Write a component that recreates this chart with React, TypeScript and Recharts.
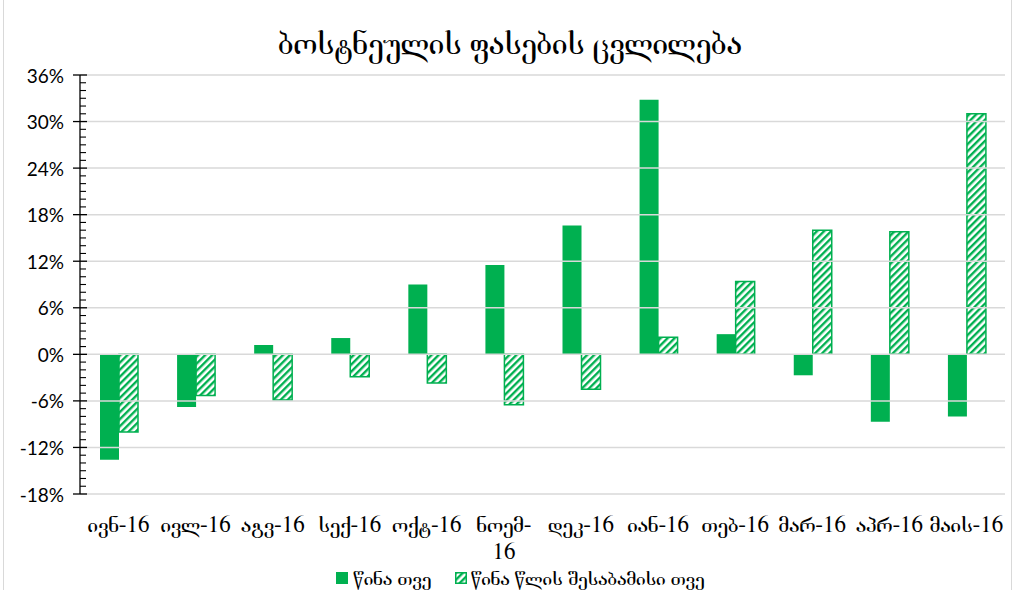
import React from 'react';
import { BarChart, Bar, XAxis, YAxis, ReferenceLine, Legend } from 'recharts';

const categories = ['ივნ-16', 'ივლ-16', 'აგვ-16', 'სექ-16', 'ოქტ-16', 'ნოემ-16', 'დეკ-16', 'იან-16', 'თებ-16', 'მარ-16', 'აპრ-16', 'მაის-16'];
const prevMonth = [-13.6, -6.8, 1.2, 2.1, 9.0, 11.5, 16.6, 32.8, 2.6, -2.7, -8.7, -8.0];
const prevYear = [-10.0, -5.3, -5.9, -2.9, -3.7, -6.5, -4.5, 2.2, 9.4, 16.0, 15.8, 31.0];
const majorTicks = [-18, -12, -6, 0, 6, 12, 18, 24, 30, 36];
const wrappedLabels = ['ნოემ-16'];
const seriesNames = ['წინა თვე', 'წინა წლის შესაბამისი თვე'];
const title = 'ბოსტნეულის ფასების ცვლილება';

const allTicks: number[] = [];
for (let v = majorTicks[0]; v <= majorTicks[majorTicks.length - 1]; v++) allTicks.push(v);

const data = categories.map((c, i) => ({ name: c, a: prevMonth[i], b: prevYear[i] }));

const GREEN = '#00B050';
const GEO_FONT = '"FreeSerif", "DejaVu Serif", serif';
const NUM_FONT = 'Lato, "Liberation Sans", sans-serif';
const TICK_SIZE = 8;
const TICK_MARGIN = 8;
const X_FONT_SIZE = 23;

const YTick = (props: any) => {
  const { x, y, payload } = props;
  const v = payload.value as number;
  const ax = x + TICK_SIZE + TICK_MARGIN;
  const major = v % 6 === 0;
  return (
    <g>
      {major ? (
        <line x1={ax - 7} x2={ax + 7} y1={y} y2={y} stroke="#000" strokeWidth={1.3} />
      ) : (
        <line x1={ax} x2={ax + 6} y1={y} y2={y} stroke="#000" strokeWidth={1.1} />
      )}
      {major && (
        <text x={x} y={y} textAnchor="end" dominantBaseline="central" fontFamily={NUM_FONT} fontSize={19} fill="#000">
          {v}%
        </text>
      )}
    </g>
  );
};

const XTick = (props: any) => {
  const { x, y, payload } = props;
  const label = String(payload.value);
  let lines = [label];
  if (wrappedLabels.includes(label)) {
    const idx = label.indexOf('-');
    lines = [label.slice(0, idx + 1), label.slice(idx + 1)];
  }
  return (
    <text x={x} y={y} textAnchor="middle" fontFamily={GEO_FONT} fontSize={X_FONT_SIZE} fill="#000">
      {lines.map((l, i) => (
        <tspan key={i} x={x} dy={i === 0 ? '0.85em' : 27}>
          {l}
        </tspan>
      ))}
    </text>
  );
};

const LegendContent = () => (
  <div style={{ display: 'flex', justifyContent: 'center', alignItems: 'center', height: 24, fontFamily: GEO_FONT, fontSize: 21, color: '#000', paddingLeft: 36 }}>
    <div style={{ display: 'flex', alignItems: 'center', marginRight: 24 }}>
      <svg width={12} height={12} style={{ marginRight: 5 }}>
        <rect x={0} y={0} width={12} height={12} fill={GREEN} />
      </svg>
      <span>{seriesNames[0]}</span>
    </div>
    <div style={{ display: 'flex', alignItems: 'center' }}>
      <svg width={12} height={12} style={{ marginRight: 4 }}>
        <rect x={0.75} y={0.75} width={10.5} height={10.5} fill="url(#hatch)" stroke={GREEN} strokeWidth={1.5} />
      </svg>
      <span>{seriesNames[1]}</span>
    </div>
  </div>
);

export default function App() {
  return (
    <div style={{ position: 'absolute', left: 0, top: 0, width: 1014, height: 590, background: '#fff', overflow: 'hidden' }}>
      <div style={{ position: 'absolute', left: 3, top: -1, width: 1007, height: 600, border: '1px solid #d9d9d9' }} />
      <div style={{ position: 'absolute', left: 0, top: 26, width: 1020, textAlign: 'center', fontFamily: GEO_FONT, fontSize: 34, color: '#000', lineHeight: '36px' }}>
        {title}
      </div>
      <svg width={0} height={0} style={{ position: 'absolute' }}>
        <defs>
          <pattern id="hatch" width={5} height={5} patternUnits="userSpaceOnUse" patternTransform="rotate(45)">
            <rect x={0} y={0} width={5} height={5} fill="#fff" />
            <rect x={0} y={0} width={2.4} height={5} fill={GREEN} />
          </pattern>
        </defs>
      </svg>
      <div style={{ position: 'absolute', left: 0, top: 0 }}>
        <BarChart width={1014} height={590} data={data} margin={{ top: 75, right: 9, bottom: 0, left: 0 }} barGap={0} barSize={19}>
          {majorTicks.map((t) => (
            <ReferenceLine key={t} y={t} stroke="#d9d9d9" strokeWidth={1.5} />
          ))}
          <XAxis dataKey="name" axisLine={false} tickLine={false} tickSize={0} tickMargin={18} height={72} interval={0} tick={<XTick />} />
          <YAxis
            domain={[majorTicks[0], majorTicks[majorTicks.length - 1]]}
            ticks={allTicks}
            interval={0}
            width={80}
            tickSize={TICK_SIZE}
            tickMargin={TICK_MARGIN}
            tickLine={false}
            axisLine={{ stroke: '#000', strokeWidth: 1.3 }}
            tick={<YTick />}
            allowDataOverflow
          />
          <Legend verticalAlign="bottom" height={24} content={<LegendContent />} />
          <Bar dataKey="a" name={seriesNames[0]} fill={GREEN} isAnimationActive={false} />
          <Bar dataKey="b" name={seriesNames[1]} fill="url(#hatch)" stroke={GREEN} strokeWidth={1.5} isAnimationActive={false} />
        </BarChart>
      </div>
    </div>
  );
}
